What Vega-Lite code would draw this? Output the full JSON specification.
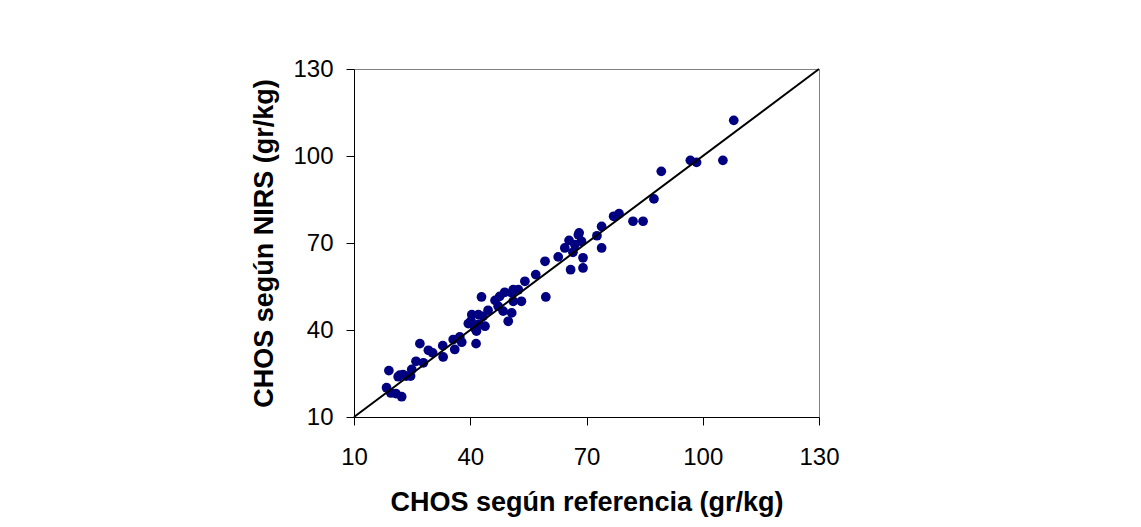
{
  "$schema": "https://vega.github.io/schema/vega-lite/v6.json",
  "width": 465,
  "height": 348,
  "padding": {"left": 250, "top": 57, "right": 5, "bottom": 5},
  "background": "white",
  "datasets": {
    "pts": [
      {"ref": 19.0, "nirs": 26.0}, {"ref": 18.4, "nirs": 20.1}, {"ref": 19.5, "nirs": 18.3},
      {"ref": 20.8, "nirs": 18.1}, {"ref": 22.3, "nirs": 17.0}, {"ref": 21.4, "nirs": 23.9},
      {"ref": 22.7, "nirs": 24.6}, {"ref": 24.6, "nirs": 24.1}, {"ref": 24.9, "nirs": 26.4},
      {"ref": 26.0, "nirs": 29.2}, {"ref": 27.9, "nirs": 28.7}, {"ref": 27.0, "nirs": 35.3},
      {"ref": 29.2, "nirs": 33.0}, {"ref": 30.3, "nirs": 32.1}, {"ref": 32.9, "nirs": 34.6},
      {"ref": 33.0, "nirs": 30.7}, {"ref": 35.6, "nirs": 36.7}, {"ref": 36.0, "nirs": 33.3},
      {"ref": 37.3, "nirs": 37.6}, {"ref": 37.8, "nirs": 35.8}, {"ref": 39.5, "nirs": 42.2},
      {"ref": 40.4, "nirs": 45.3}, {"ref": 41.2, "nirs": 40.7}, {"ref": 41.5, "nirs": 35.3},
      {"ref": 41.6, "nirs": 39.6}, {"ref": 42.9, "nirs": 51.4}, {"ref": 43.3, "nirs": 44.7},
      {"ref": 43.8, "nirs": 41.3}, {"ref": 47.2, "nirs": 48.2}, {"ref": 47.6, "nirs": 51.6},
      {"ref": 48.9, "nirs": 53.0}, {"ref": 48.5, "nirs": 46.5}, {"ref": 50.7, "nirs": 45.9},
      {"ref": 49.8, "nirs": 43.0}, {"ref": 51.1, "nirs": 53.9}, {"ref": 53.2, "nirs": 49.9},
      {"ref": 54.1, "nirs": 56.8}, {"ref": 56.9, "nirs": 59.1}, {"ref": 59.5, "nirs": 51.4},
      {"ref": 59.3, "nirs": 63.7}, {"ref": 62.7, "nirs": 65.2}, {"ref": 64.4, "nirs": 68.3},
      {"ref": 65.5, "nirs": 70.9}, {"ref": 66.5, "nirs": 66.8}, {"ref": 65.9, "nirs": 60.8},
      {"ref": 68.1, "nirs": 73.5}, {"ref": 68.7, "nirs": 70.6}, {"ref": 69.1, "nirs": 64.9},
      {"ref": 69.1, "nirs": 61.4}, {"ref": 72.7, "nirs": 72.5}, {"ref": 73.9, "nirs": 75.7},
      {"ref": 73.9, "nirs": 68.3}, {"ref": 77.0, "nirs": 79.2}, {"ref": 78.4, "nirs": 80.1},
      {"ref": 82.0, "nirs": 77.5}, {"ref": 84.6, "nirs": 77.5}, {"ref": 87.4, "nirs": 85.2},
      {"ref": 89.3, "nirs": 94.7}, {"ref": 96.8, "nirs": 98.5}, {"ref": 98.4, "nirs": 97.8},
      {"ref": 105.2, "nirs": 98.5}, {"ref": 108.0, "nirs": 112.3},
      {"ref": 42.1, "nirs": 45.3}, {"ref": 42.1, "nirs": 41.9}, {"ref": 50.7, "nirs": 52.8},
      {"ref": 52.4, "nirs": 53.9}, {"ref": 51.1, "nirs": 49.9}, {"ref": 23.5, "nirs": 24.1},
      {"ref": 21.8, "nirs": 24.4}, {"ref": 67.9, "nirs": 72.8}, {"ref": 46.4, "nirs": 50.2},
      {"ref": 44.6, "nirs": 46.8}, {"ref": 67.0, "nirs": 69.4}, {"ref": 40.2, "nirs": 43.1}
    ],
    "fit": [
      {"ref": 10, "nirs": 10}, {"ref": 130, "nirs": 130}
    ]
  },
  "config": {
    "view": {"stroke": "#808080", "strokeWidth": 1},
    "axis": {
      "grid": false,
      "labelFlush": false,
      "labelFont": "Liberation Sans",
      "labelFontSize": 24,
      "labelColor": "#000000",
      "titleFont": "Liberation Sans",
      "titleFontSize": 27,
      "titleFontWeight": "bold",
      "titleColor": "#000000",
      "domainColor": "#000000",
      "tickColor": "#000000",
      "tickSize": 8
    }
  },
  "layer": [
    {
      "data": {"name": "pts"},
      "mark": {"type": "circle", "size": 95, "color": "#000080", "opacity": 1},
      "encoding": {
        "x": {"field": "ref", "type": "quantitative",
              "scale": {"domain": [10, 130], "nice": false, "zero": false},
              "axis": {"values": [10, 40, 70, 100, 130], "title": "CHOS según referencia (gr/kg)", "labelPadding": 20, "titlePadding": 20}},
        "y": {"field": "nirs", "type": "quantitative",
              "scale": {"domain": [10, 130], "nice": false, "zero": false},
              "axis": {"values": [10, 40, 70, 100, 130], "title": "CHOS según NIRS (gr/kg)", "labelPadding": 13, "titlePadding": 14}}
      }
    },
    {
      "data": {"name": "fit"},
      "mark": {"type": "line", "color": "#000000", "strokeWidth": 2},
      "encoding": {
        "x": {"field": "ref", "type": "quantitative"},
        "y": {"field": "nirs", "type": "quantitative"}
      }
    }
  ]
}
